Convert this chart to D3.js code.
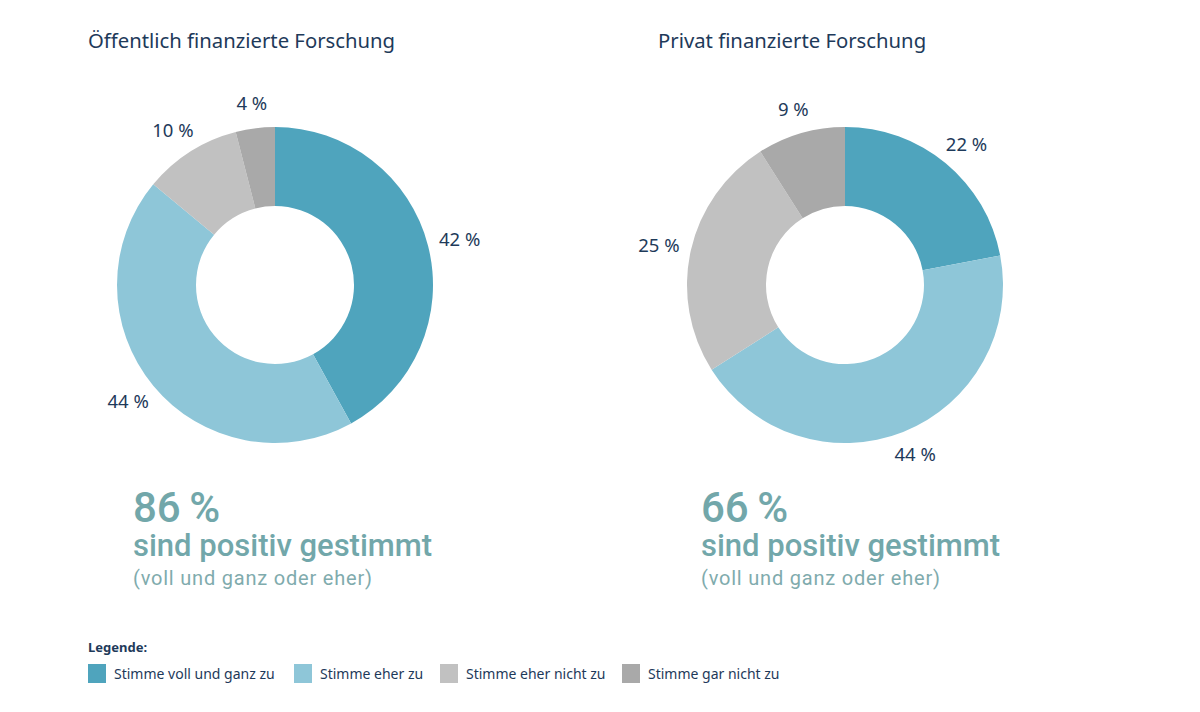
<!DOCTYPE html>
<html><head><meta charset="utf-8">
<script src="https://cdn.jsdelivr.net/npm/d3@7"></script>
<style>body{margin:0;background:#fff}svg{display:block}</style>
</head><body>
<svg id="c" width="1200" height="712"></svg>
<script>
const categories = ["Stimme voll und ganz zu","Stimme eher zu","Stimme eher nicht zu","Stimme gar nicht zu"];
const chartTitles = ["Öffentlich finanzierte Forschung","Privat finanzierte Forschung"];
const valuesPublic = [42,44,10,4];
const valuesPrivate = [22,44,25,9];
const positiveTotals = [86,66];
const colors = ["#4fa4bd","#8ec6d8","#c1c1c1","#a9a9a9"];

const svg = d3.select("#c");
const navy = "#1e3a5a", teal = "#72a7aa";
const charts = [
  {title: chartTitles[0], values: valuesPublic, total: positiveTotals[0], cx: 275, tx: 88, bx: 133},
  {title: chartTitles[1], values: valuesPrivate, total: positiveTotals[1], cx: 845, tx: 658, bx: 701}
];
const cy = 285, R = 158, r = 79, gap = 12;
const pie = d3.pie().sort(null).value(d => d);
const arc = d3.arc().innerRadius(r).outerRadius(R);

charts.forEach(c => {
  svg.append("text").attr("x", c.tx).attr("y", 48)
    .attr("font-family", "Noto Sans").attr("font-size", 20.3).attr("fill", navy).text(c.title);
  const g = svg.append("g").attr("transform", `translate(${c.cx},${cy})`);
  const arcs = pie(c.values);
  g.selectAll("path").data(arcs).join("path")
    .attr("d", arc).attr("fill", (d,i) => colors[i]);
  const labels = g.selectAll("text").data(arcs).join("text")
    .attr("text-anchor", "middle").attr("dy", "0.35em")
    .attr("font-family", "Noto Sans").attr("font-size", 18.5).attr("fill", navy)
    .text(d => d.data + " %");
  labels.each(function(d) {
    const a = (d.startAngle + d.endAngle) / 2;
    const bb = this.getBBox();
    const x = Math.sin(a) * (R + gap + bb.width / 2);
    const y = -Math.cos(a) * (R + gap + bb.height / 2);
    d3.select(this).attr("x", x).attr("y", y);
  });
  svg.append("text").attr("x", c.bx).attr("y", 522)
    .attr("font-family", "Roboto").attr("font-weight", 500).attr("font-size", 42).attr("fill", teal)
    .text(c.total + "\u2009%");
  svg.append("text").attr("x", c.bx).attr("y", 556)
    .attr("font-family", "Roboto").attr("font-weight", 500).attr("font-size", 31).attr("fill", teal)
    .text("sind positiv gestimmt");
  svg.append("text").attr("x", c.bx).attr("y", 585)
    .attr("font-family", "Roboto").attr("font-size", 20).attr("letter-spacing", 0.8).attr("fill", "#7fabad")
    .text("(voll und ganz oder eher)");
});

svg.append("text").attr("x", 88).attr("y", 652)
  .attr("font-family", "Noto Sans").attr("font-weight", 700).attr("font-size", 13).attr("fill", navy)
  .text("Legende:");
const legX = [88, 294, 440, 622];
const lg = svg.selectAll("g.leg").data(categories).join("g").attr("class","leg")
  .attr("transform", (d,i) => `translate(${legX[i]},664)`);
lg.append("rect").attr("width", 18).attr("height", 19).attr("fill", (d,i) => colors[i]);
lg.append("text").attr("x", 26).attr("y", 15)
  .attr("font-family", "Noto Sans").attr("font-size", 14).attr("fill", navy).text(d => d);
</script>
</body></html>
